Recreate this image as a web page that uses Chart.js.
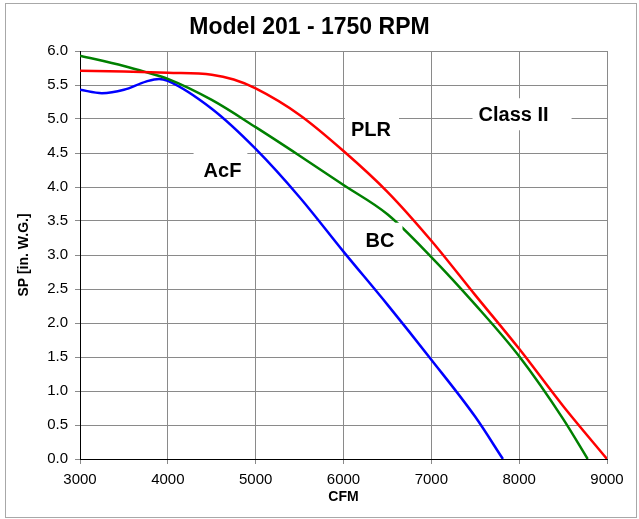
<!DOCTYPE html>
<html>
<head>
<meta charset="utf-8">
<script src="https://cdn.jsdelivr.net/npm/chart.js@4"></script>
<style>
  body { margin: 0; background: #fff; }
  #wrap { position: relative; width: 639px; height: 519px; }
</style>
</head>
<body>
<div id="wrap"><canvas id="fanChart"></canvas></div>
<script>
// curves (CFM vs SP in. W.G.)
const cfmPLR = [3000, 3500, 4000, 4500, 4750, 5000, 5500, 6000, 6500, 7000, 7500, 8000, 8500, 9000];
const spPLR  = [5.71, 5.70, 5.68, 5.65, 5.58, 5.45, 5.06, 4.53, 3.93, 3.21, 2.41, 1.62, 0.78, 0.0];

const cfmBC = [3000, 3500, 3750, 4000, 4500, 5000, 5500, 6000, 6500, 7000, 7500, 8000, 8500, 8780];
const spBC  = [5.93, 5.78, 5.69, 5.59, 5.28, 4.88, 4.46, 4.03, 3.60, 2.97, 2.27, 1.51, 0.59, 0.0];

const cfmAcF = [3000, 3250, 3500, 3750, 3900, 4000, 4500, 5000, 5500, 6000, 6500, 7000, 7500, 7815];
const spAcF  = [5.43, 5.38, 5.43, 5.55, 5.59, 5.56, 5.15, 4.56, 3.85, 3.05, 2.27, 1.46, 0.62, 0.0];

const xTicks = [3000, 4000, 5000, 6000, 7000, 8000, 9000];

// text labels placed in the plot (data coordinates)
const noteText = ['Class II', 'PLR', 'AcF', 'BC'];
const noteX    = [7936, 6313, 4622, 6416];
const noteY    = [5.07, 4.84, 4.25, 3.21];

const pts = (xs, ys) => xs.map((x, i) => ({ x: x, y: ys[i] }));

// white boxes behind the notes: [padLeft, padRight, padTop, padBottom]
const notePad = [[6, 23, 16, 16], [6, 8, 19, 16], [10, 6, 20, 15], [8, 8, 18, 14]];

const notesPlugin = {
    id: 'notes',
    afterDatasetsDraw(chart) {
        const ctx = chart.ctx;
        const xs = chart.scales.x, ys = chart.scales.y;
        ctx.save();
        ctx.font = 'bold 20px "Liberation Sans", Arial, sans-serif';
        ctx.textAlign = 'center';
        ctx.textBaseline = 'middle';
        noteText.forEach((t, i) => {
            const px = xs.getPixelForValue(noteX[i]);
            const py = ys.getPixelForValue(noteY[i]);
            const w = ctx.measureText(t).width;
            const p = notePad[i];
            ctx.fillStyle = '#fff';
            ctx.fillRect(px - w / 2 - p[0], py - p[2], w + p[0] + p[1], p[2] + p[3]);
            ctx.fillStyle = '#000';
            ctx.fillText(t, px, py + 1);
        });
        ctx.restore();
    }
};

const framePlugin = {
    id: 'frame',
    afterDraw(chart) {
        const ctx = chart.ctx;
        ctx.save();
        ctx.strokeStyle = '#a8a8a8';
        ctx.lineWidth = 1;
        ctx.strokeRect(5.5, 3.5, 631, 514);
        ctx.restore();
    }
};

const font = '"Liberation Sans", Arial, sans-serif';

new Chart(document.getElementById('fanChart'), {
    type: 'line',
    data: {
        datasets: [
            { label: 'PLR', data: pts(cfmPLR, spPLR), borderColor: '#ff0000' },
            { label: 'BC',  data: pts(cfmBC, spBC),   borderColor: '#008000' },
            { label: 'AcF', data: pts(cfmAcF, spAcF), borderColor: '#0000ff' }
        ].map(d => Object.assign(d, {
            borderWidth: 2.5, pointRadius: 0, fill: false,
            cubicInterpolationMode: 'monotone'
        }))
    },
    options: {
        responsive: true,
        maintainAspectRatio: false,
        animation: false,
        layout: { padding: { left: 12, right: 32, top: 0, bottom: 12 } },
        plugins: {
            legend: { display: false },
            tooltip: { enabled: false },
            title: {
                display: true,
                text: 'Model 201 - 1750 RPM',
                color: '#000',
                font: { family: font, size: 23, weight: 'bold' },
                padding: { top: 14, bottom: 9.4 }
            }
        },
        scales: {
            x: {
                type: 'linear', min: 3000, max: 9000,
                afterFit: s => { s.height = 48; },
                afterBuildTicks: s => { s.ticks = xTicks.map(v => ({ value: v })); },
                ticks: { color: '#000', font: { family: font, size: 15 }, padding: 7, maxRotation: 0,
                         callback: v => String(v) },
                grid: { color: '#8a8a8a', lineWidth: 1, tickLength: 5 },
                border: { color: '#000', width: 1 },
                title: { display: true, text: 'CFM', color: '#000', padding: { top: 0, bottom: 1 },
                         font: { family: font, size: 14, weight: 'bold' } }
            },
            y: {
                min: 0, max: 6,
                afterFit: s => { s.width = 68; },
                ticks: { stepSize: 0.5, color: '#000', font: { family: font, size: 15 }, padding: 7,
                         callback: v => v.toFixed(1) },
                grid: { color: '#8a8a8a', lineWidth: 1, tickLength: 5 },
                border: { color: '#000', width: 1 },
                title: { display: true, text: 'SP [in. W.G.]', color: '#000', padding: { top: 4, bottom: 0 },
                         font: { family: font, size: 14, weight: 'bold' } }
            }
        }
    },
    plugins: [notesPlugin, framePlugin]
});
</script>
</body>
</html>
